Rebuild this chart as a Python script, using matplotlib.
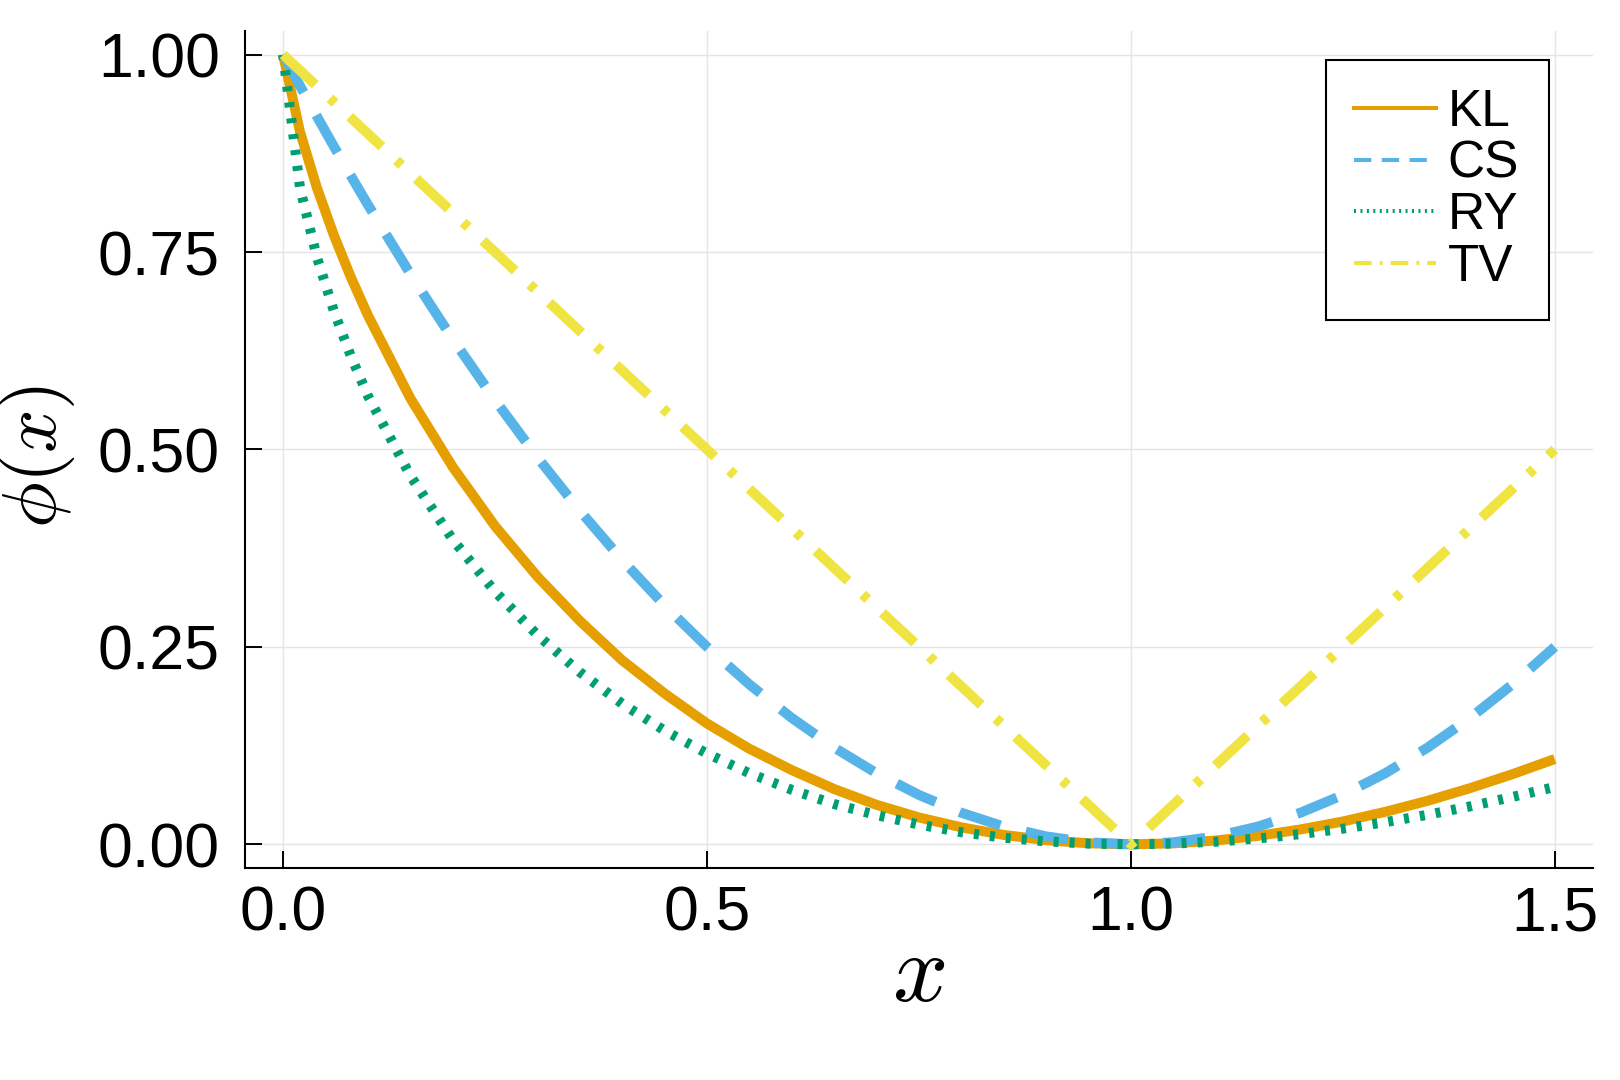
import matplotlib
matplotlib.use("Agg")
import matplotlib.pyplot as plt
from matplotlib.lines import Line2D

# values
x = [0.00, 0.02, 0.04, 0.06, 0.08, 0.10, 0.15, 0.20, 0.25, 0.30, 0.35, 0.40,
     0.45, 0.50, 0.55, 0.60, 0.65, 0.70, 0.75, 0.80, 0.85, 0.90, 0.95, 1.00,
     1.05, 1.10, 1.15, 1.20, 1.25, 1.30, 1.35, 1.40, 1.45, 1.50]

kl = [1.000, 0.902, 0.831, 0.771, 0.718, 0.670, 0.565, 0.478, 0.403, 0.339, 0.283, 0.233,
      0.191, 0.153, 0.121, 0.094, 0.070, 0.050, 0.034, 0.0215, 0.0119, 0.0052, 0.0013, 0.000,
      0.0012, 0.0048, 0.0107, 0.0188, 0.0289, 0.0411, 0.0551, 0.0711, 0.0888, 0.108]

cs = [1.000, 0.9604, 0.9216, 0.8836, 0.8464, 0.810, 0.7225, 0.640, 0.5625, 0.490, 0.4225, 0.360,
      0.3025, 0.250, 0.2025, 0.160, 0.1225, 0.090, 0.0625, 0.040, 0.0225, 0.010, 0.0025, 0.000,
      0.0025, 0.010, 0.0225, 0.040, 0.0625, 0.090, 0.1225, 0.160, 0.2025, 0.250]

ry = [1.000, 0.831, 0.743, 0.675, 0.618, 0.568, 0.467, 0.386, 0.320, 0.265, 0.218, 0.178,
      0.144, 0.115, 0.090, 0.069, 0.051, 0.037, 0.025, 0.0153, 0.0083, 0.0037, 0.0009, 0.000,
      0.0009, 0.0033, 0.0074, 0.0129, 0.0198, 0.028, 0.0374, 0.048, 0.060, 0.0726]

tv = [1.00, 0.98, 0.96, 0.94, 0.92, 0.90, 0.85, 0.80, 0.75, 0.70, 0.65, 0.60,
      0.55, 0.50, 0.45, 0.40, 0.35, 0.30, 0.25, 0.20, 0.15, 0.10, 0.05, 0.00,
      0.05, 0.10, 0.15, 0.20, 0.25, 0.30, 0.35, 0.40, 0.45, 0.50]

names = ["KL", "CS", "RY", "TV"]
colors = ["#E69F00", "#56B4E9", "#009E73", "#F0E442"]
styles = ["-", (0, (4.3, 2.6)), (0, (0.5, 1.1)), (0, (4.4, 2.0, 0.7, 2.0))]

xticks = [0.0, 0.5, 1.0, 1.5]
xticklabels = ["0.0", "0.5", "1.0", "1.5"]
yticks = [0.0, 0.25, 0.5, 0.75, 1.0]
yticklabels = ["0.00", "0.25", "0.50", "0.75", "1.00"]

plt.rcParams["font.family"] = ["Liberation Sans", "DejaVu Sans"]
plt.rcParams["mathtext.fontset"] = "cm"

fig = plt.figure(figsize=(16.2, 10.8), dpi=100)
ax = fig.add_axes([0.1512, 0.1963, 0.8321, 0.775])

lw = 7.2
for ys, c, ls in zip([kl, cs, ry, tv], colors, styles):
    ax.plot(x, ys, color=c, lw=lw, linestyle=ls, solid_capstyle="butt",
            dash_capstyle="butt", zorder=3)

ax.set_xlim(-0.045, 1.545)
ax.set_ylim(-0.03, 1.03)
ax.set_xticks(xticks)
ax.set_xticklabels(xticklabels)
ax.set_yticks(yticks)
ax.set_yticklabels(yticklabels)

for side in ["top", "right"]:
    ax.spines[side].set_visible(False)
for side in ["left", "bottom"]:
    ax.spines[side].set_linewidth(1.5)

ax.tick_params(axis="both", direction="in", length=12, width=1.4, labelsize=45)
ax.tick_params(axis="x", pad=12)
ax.tick_params(axis="y", pad=18)
ax.grid(True, color="#e5e5e5", lw=1.0, zorder=0)
ax.set_axisbelow(True)

ax.set_xlabel("$x$", fontsize=70)
ax.set_ylabel(r"$\phi(x)$", fontsize=55)
ax.xaxis.set_label_coords(0.5, -0.075)
ax.yaxis.set_label_coords(-0.1246, 0.492)

# thinner lines for the legend keys
handles = [Line2D([], [], color=c, lw=2.9, linestyle=ls, dash_capstyle="butt")
           for c, ls in zip(colors, styles)]
leg = ax.legend(handles, names, loc="upper left",
                bbox_to_anchor=(0.8019, 0.9654, 0.1655, 0.0), mode="expand",
                borderaxespad=0, fontsize=37, fancybox=False, framealpha=1,
                edgecolor="black", borderpad=0.55, labelspacing=0.05,
                handlelength=1.6, handletextpad=0.22)
leg.get_frame().set_linewidth(1.5)

fig.savefig("out.png", dpi=100)
